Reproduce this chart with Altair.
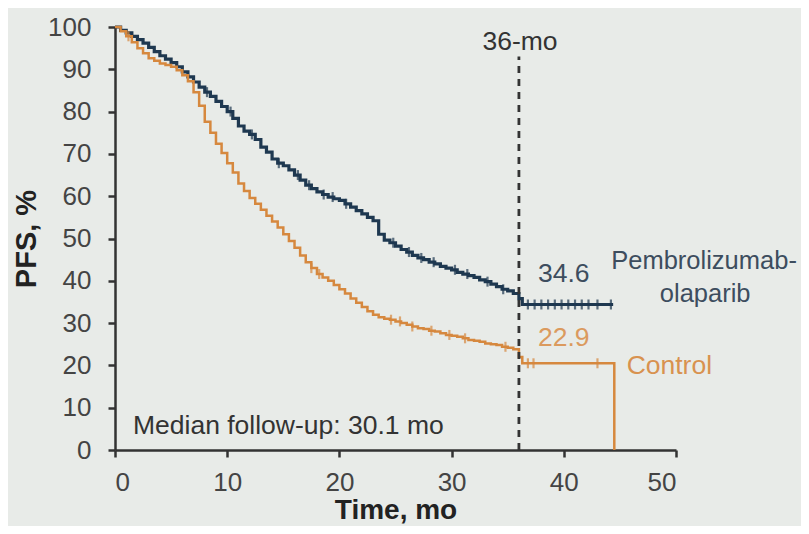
import altair as alt
import numpy as np
import pandas as pd

# ---- data ----
pembro_t = [0,0.5,1,1.5,2,2.5,3,3.5,4,4.5,5,5.5,6,6.5,7,7.5,8,8.5,9,9.5,10,10.5,11,11.5,12,12.5,13,13.5,14,14.5,15,15.5,16,16.5,17,17.5,18,18.5,19,19.5,20,20.5,21,21.5,22,22.5,23,23.5,24,24.5,25,25.5,26,26.5,27,27.5,28,28.5,29,29.5,30,30.5,31,31.5,32,32.5,33,33.5,34,34.5,35,35.5,36,36.3,44.4]
pembro_s = [100,99.2,98.6,97.8,97.0,96.2,95.2,94.2,93.2,92.4,91.6,90.6,89.4,88.2,87.0,85.8,84.6,83.6,82.4,81.2,80.0,78.4,76.6,75.4,74.6,73.4,71.6,70.4,68.8,67.8,67.2,66.2,65.0,63.8,62.6,61.8,61.0,60.4,59.8,59.4,59.0,58.2,57.4,56.6,55.8,55.0,54.2,51.0,49.6,49.0,48.2,47.4,46.8,46.0,45.4,45.0,44.4,44.0,43.4,43.0,42.6,42.0,41.6,41.2,40.8,40.2,39.8,39.2,38.6,38.0,37.6,37.0,35.8,34.4,34.4]

control_t = [0,0.5,1,1.5,2,2.5,3,3.5,4,4.5,5,5.5,6,6.5,7,7.5,8,8.5,9,9.5,10,10.5,11,11.5,12,12.5,13,13.5,14,14.5,15,15.5,16,16.5,17,17.5,18,18.5,19,19.5,20,20.5,21,21.5,22,22.5,23,23.5,24,24.5,25,25.5,26,26.5,27,27.5,28,28.5,29,29.5,30,30.5,31,31.5,32,32.5,33,33.5,34,34.5,35,35.5,36,36.3,44.5]
control_s = [100,99.0,97.8,96.4,95.0,93.8,92.6,92.0,91.4,91.0,90.6,89.8,88.6,87.2,84.6,81.4,77.6,75.0,72.4,70.2,67.8,65.6,63.0,61.2,59.6,58.2,56.8,55.4,54.0,52.6,51.0,49.4,47.8,46.0,44.4,43.0,41.6,40.8,40.0,39.0,38.0,37.0,35.8,34.8,33.8,32.8,32.0,31.4,31.0,30.8,30.4,30.0,29.6,29.2,28.8,28.6,28.2,28.0,27.6,27.2,27.0,26.8,26.4,26.0,25.8,25.6,25.2,25.0,24.8,24.4,24.2,23.8,22.0,20.5,0]

pembro_censor = [8.2,10.3,12.2,14.6,16.3,17.3,18.6,19.4,20.6,24.8,26.2,27.3,28.4,30.3,31.4,33.2,34.6,36.8,37.4,38.0,38.6,39.2,39.8,40.4,41.0,41.6,42.2,43.0,44.2]
control_censor = [1.2,17.5,18.2,24.6,25.4,26.5,28.2,29.8,31.2,34.8,36.8,37.3,43.0]

x_ticks = [0, 10, 20, 30, 40, 50]
y_ticks = [0, 10, 20, 30, 40, 50, 60, 70, 80, 90, 100]

BLUE = "#1e3850"
ORANGE = "#d6883e"
FONT = "Liberation Sans"


def step_value(ts, ss, t):
    i = int(np.searchsorted(np.array(ts), t, side="right")) - 1
    return ss[max(i, 0)]


curve_df = pd.concat([
    pd.DataFrame({"t": pembro_t, "s": pembro_s, "arm": "Pembrolizumab-olaparib"}),
    pd.DataFrame({"t": control_t, "s": control_s, "arm": "Control"}),
])
cens_df = pd.concat([
    pd.DataFrame({"t": pembro_censor, "s": [step_value(pembro_t, pembro_s, c) for c in pembro_censor], "arm": "Pembrolizumab-olaparib"}),
    pd.DataFrame({"t": control_censor, "s": [step_value(control_t, control_s, c) for c in control_censor], "arm": "Control"}),
])

xs = alt.Scale(domain=[0, 50], nice=False, zero=False)
ys = alt.Scale(domain=[0, 100], nice=False, zero=False)
arm_scale = alt.Scale(domain=["Pembrolizumab-olaparib", "Control"], range=[BLUE, ORANGE])
color = alt.Color("arm:N", scale=arm_scale, legend=None)
width_enc = alt.StrokeWidth("arm:N", scale=alt.Scale(domain=["Pembrolizumab-olaparib", "Control"], range=[3.2, 2.5]), legend=None)

x_axis = alt.Axis(values=x_ticks, title="Time, mo", grid=False, labelFontSize=26, titleFontSize=28,
                  labelPadding=12, titlePadding=1, tickSize=7)
y_axis = alt.Axis(values=y_ticks, title="PFS, %", grid=False, labelFontSize=26, titleFontSize=29,
                  labelPadding=17, titlePadding=6, tickSize=7)

base = alt.Chart(curve_df)

lines = base.mark_line(interpolate="step-after").encode(
    x=alt.X("t:Q", scale=xs, axis=x_axis),
    y=alt.Y("s:Q", scale=ys, axis=y_axis),
    color=color,
    strokeWidth=width_enc,
    detail="arm:N",
)

cens = alt.Chart(cens_df).mark_tick(orient="vertical", size=10, thickness=2.2).encode(
    x=alt.X("t:Q", scale=xs),
    y=alt.Y("s:Q", scale=ys),
    color=color,
)

rule = alt.Chart(pd.DataFrame({"x": [36], "y": [0], "y2": [93]})).mark_rule(
    color="#333333", strokeWidth=2.8, strokeDash=[7, 6]
).encode(x=alt.X("x:Q", scale=xs), y=alt.Y("y:Q", scale=ys), y2="y2:Q")

ann_text = ["36-mo", "34.6", "22.9", "Pembrolizumab-", "olaparib", "Control", "Median follow-up: 30.1 mo"]
ann_x = [36.1, 40.0, 40.0, 52.5, 52.6, 45.6, 1.6]
ann_y = [96.5, 41.6, 26.4, 44.7, 36.9, 19.8, 5.6]
ann_col = ["#333333", "#3d4d5e", "#db9a5e", "#3d4d5e", "#3d4d5e", "#d8924f", "#333333"]
ann_size = [26.5, 26.5, 26.5, 25.5, 25.5, 26.5, 26.5]
ann_align = ["center", "center", "center", "center", "center", "left", "left"]
ann_df = pd.DataFrame({"label": ann_text, "x": ann_x, "y": ann_y, "c": ann_col, "a": ann_align, "fs": ann_size})

texts = []
for al in ["center", "left"]:
    texts.append(
        alt.Chart(ann_df[ann_df["a"] == al]).mark_text(
            align=al, baseline="middle", font=FONT
        ).encode(
            x=alt.X("x:Q", scale=xs),
            y=alt.Y("y:Q", scale=ys),
            text="label:N",
            color=alt.Color("c:N", scale=None, legend=None),
            size=alt.Size("fs:Q", scale=None, legend=None),
        )
    )

chart = alt.layer(lines, cens, rule, *texts).properties(
    width=561, height=423,
    autosize=alt.AutoSizeParams(type="none"),
    padding={"left": 107, "top": 19, "right": 125, "bottom": 76},
    background="#e8ebe8",
).configure_view(stroke=None).configure_axis(
    domainColor="#333333", domainWidth=2.5, tickColor="#333333", tickWidth=2.5,
    labelColor="#444444", titleColor="#222222", labelFont=FONT, titleFont=FONT,
    titleFontWeight="bold",
)

chart.save("out.html", embed_options={"renderer": "svg", "actions": False})
